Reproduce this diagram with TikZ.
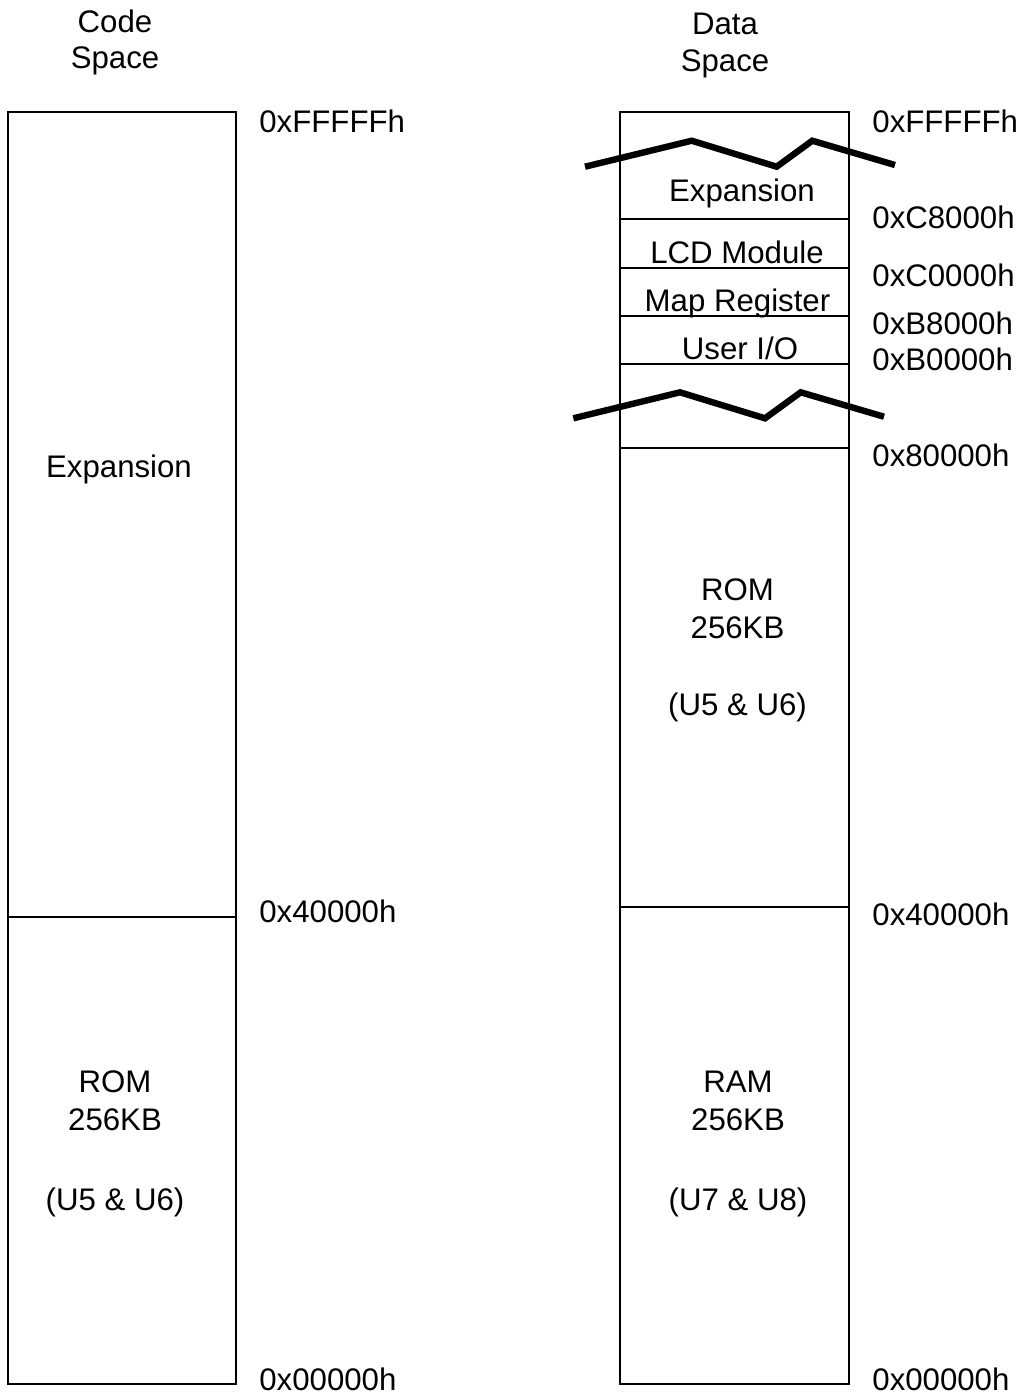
\documentclass[tikz,border=0pt]{standalone}
\usepackage{fontspec}
\setmainfont{Liberation Sans}
\begin{document}
\begin{tikzpicture}[x=0.5pt,y=-0.5pt,
  lbl/.style={font=\fontsize{15.6}{18}\selectfont,inner sep=0pt,anchor=base},
  addr/.style={font=\fontsize{15.6}{18}\selectfont,inner sep=0pt,anchor=base west},
  box/.style={line width=1pt},
  brk/.style={line width=3.2pt,line join=miter}]
\useasboundingbox (0,0) rectangle (1022,1394);
% headers
\node[lbl] (c1) at (115,32) {Code};
\node[lbl] (c2) at (115,68) {Space};
\node[lbl] (d1) at (725,34) {Data};
\node[lbl] (d2) at (725,71) {Space};
% code space box
\draw[box] (8,112) rectangle (236,1384);
\draw[box] (8,917) -- (236,917);
\node[lbl] (cexp) at (119,477) {Expansion};
\node[lbl] (crom1) at (115,1092) {ROM};
\node[lbl] (crom2) at (115,1130) {256KB};
\node[lbl] (crom3) at (115,1210) {(U5 \& U6)};
\node[addr] (ca1) at (259,132) {0xFFFFFh};
\node[addr] (ca2) at (259,922) {0x40000h};
\node[addr] (ca3) at (259,1390) {0x00000h};
% data space box
\draw[box] (620,112) rectangle (849,1384);
\foreach \yy in {219,268,316,364,448,907} \draw[box] (620,\yy) -- (849,\yy);
\node[lbl] (dexp) at (742,201) {Expansion};
\node[lbl] (dlcd) at (737,263) {LCD Module};
\node[lbl] (dmap) at (737.5,311.5) {Map Register};
\node[lbl] (duio) at (740,359) {User I/O};
\node[lbl] (drom1) at (737.5,600) {ROM};
\node[lbl] (drom2) at (737.5,638) {256KB};
\node[lbl] (drom3) at (737.5,715) {(U5 \& U6)};
\node[lbl] (dram1) at (738,1092) {RAM};
\node[lbl] (dram2) at (738,1130) {256KB};
\node[lbl] (dram3) at (738,1210) {(U7 \& U8)};
\node[addr] (da1) at (872,132) {0xFFFFFh};
\node[addr] (da2) at (872,228) {0xC8000h};
\node[addr] (da3) at (872,286.5) {0xC0000h};
\node[addr] (da4) at (872,334) {0xB8000h};
\node[addr] (da5) at (872,370.5) {0xB0000h};
\node[addr] (da6) at (872,466.5) {0x80000h};
\node[addr] (da7) at (872,925) {0x40000h};
\node[addr] (da8) at (872,1390) {0x00000h};
% break marks
\draw[brk] (585,166.7) -- (691.7,140.7) -- (776.7,166.7) -- (812.3,140.7) -- (895,165);
\draw[brk] (573.3,418.3) -- (680,392.3) -- (765,418.3) -- (800.7,392.3) -- (884,416.7);
\end{tikzpicture}
\end{document}
